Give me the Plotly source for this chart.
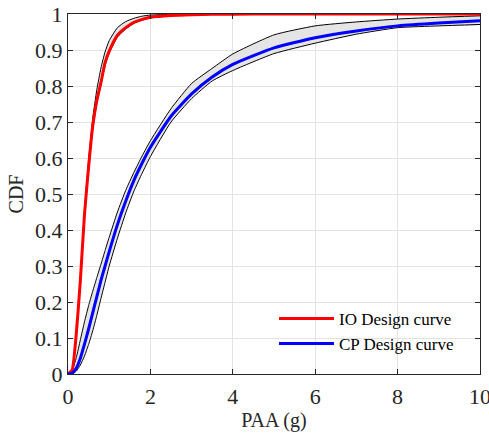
import plotly.graph_objects as go

# PAA grid (g)
paa = [0, 0.1, 0.2, 0.3, 0.4, 0.5, 0.6, 0.7, 0.8, 0.9, 1.0, 1.2, 1.4, 1.6, 1.8,
       2.0, 2.5, 3.0, 3.5, 4.0, 5.0, 6.0, 7.0, 8.0, 9.0, 10.0]

# IO design curve and its bounds (CDF)
io_design = [0, 0.011, 0.11, 0.26, 0.443, 0.575, 0.689, 0.76, 0.81, 0.865, 0.897,
             0.941, 0.962, 0.977, 0.985, 0.991, 0.996, 0.998, 0.999, 0.9995, 1.0,
             1.0, 1.0, 1.0, 1.0, 1.0]
io_upper = [0, 0.012, 0.115, 0.27, 0.455, 0.595, 0.71, 0.79, 0.85, 0.895, 0.926,
            0.962, 0.979, 0.988, 0.994, 0.997, 0.999, 1.0, 1.0, 1.0, 1.0,
            1.0, 1.0, 1.0, 1.0, 1.0]
io_lower = [0, 0.010, 0.105, 0.252, 0.435, 0.566, 0.68, 0.752, 0.803, 0.857, 0.891,
            0.936, 0.958, 0.974, 0.983, 0.989, 0.995, 0.998, 0.999, 0.9995, 1.0,
            1.0, 1.0, 1.0, 1.0, 1.0]

# CP design curve and its bounds (CDF)
cp_design = [0, 0.002, 0.016, 0.044, 0.083, 0.125, 0.17, 0.215, 0.26, 0.30, 0.34,
             0.415, 0.48, 0.538, 0.586, 0.63, 0.716, 0.778, 0.825, 0.86, 0.906,
             0.934, 0.953, 0.967, 0.975, 0.981]
cp_upper = [0, 0.01, 0.045, 0.095, 0.145, 0.19, 0.23, 0.268, 0.305, 0.343, 0.38,
            0.45, 0.51, 0.56, 0.606, 0.648, 0.737, 0.807, 0.849, 0.889, 0.942,
            0.967, 0.978, 0.986, 0.991, 0.995]
cp_lower = [0, 0.0005, 0.008, 0.025, 0.05, 0.082, 0.12, 0.163, 0.21, 0.255, 0.30,
            0.377, 0.447, 0.508, 0.558, 0.604, 0.70, 0.765, 0.814, 0.843, 0.89,
            0.919, 0.944, 0.962, 0.967, 0.971]

x_ticks = [0, 2, 4, 6, 8, 10]

FONT = "Liberation Serif"
AX = "#262626"
SMOOTH = 0.5

fig = go.Figure()

# gray bands
for up, lo in [(io_upper, io_lower), (cp_upper, cp_lower)]:
    fig.add_trace(go.Scatter(
        x=paa + paa[::-1], y=up + lo[::-1], fill="toself",
        fillcolor="#e5e5e5", line=dict(width=0, shape="spline", smoothing=SMOOTH),
        mode="lines", showlegend=False, hoverinfo="skip"))

# black bound lines
for b in [io_upper, io_lower, cp_upper, cp_lower]:
    fig.add_trace(go.Scatter(
        x=paa, y=b, mode="lines", showlegend=False, cliponaxis=False,
        line=dict(color="black", width=1, shape="spline", smoothing=SMOOTH)))

fig.add_trace(go.Scatter(
    x=paa, y=io_design, mode="lines", name="IO Design curve", cliponaxis=False,
    line=dict(color="#ff0000", width=3, shape="spline", smoothing=SMOOTH)))
fig.add_trace(go.Scatter(
    x=paa, y=cp_design, mode="lines", name="CP Design curve", cliponaxis=False,
    line=dict(color="#0000ff", width=3, shape="spline", smoothing=SMOOTH)))

fig.update_layout(
    width=489, height=436,
    margin=dict(l=68, r=9, t=14, b=62, autoexpand=False),
    paper_bgcolor="white", plot_bgcolor="white",
    font=dict(family=FONT, size=20, color=AX),
    showlegend=True,
    legend=dict(x=0.5, y=0.203, xanchor="left", yanchor="top",
                bgcolor="rgba(0,0,0,0)", borderwidth=0,
                font=dict(family=FONT, size=17, color="black"),
                itemwidth=55, tracegroupgap=0),
)
fig.update_xaxes(
    range=[0, 10], tickvals=x_ticks, showgrid=True, gridcolor="#e3e3e3",
    gridwidth=1, zeroline=False, showline=True, linecolor=AX, linewidth=1,
    mirror="ticks", ticks="inside", ticklen=5, tickcolor=AX, automargin=False,
    ticklabeloverflow="allow", ticklabelstandoff=3,
    tickfont=dict(family=FONT, size=22, color=AX),
    title=dict(text="PAA (g)", font=dict(family=FONT, size=20, color=AX), standoff=4))
fig.update_yaxes(
    range=[0, 1], dtick=0.1, tick0=0, showgrid=True, gridcolor="#e3e3e3",
    gridwidth=1, zeroline=False, showline=True, linecolor=AX, linewidth=1,
    mirror="ticks", ticks="inside", ticklen=5, tickcolor=AX, automargin=False,
    ticklabeloverflow="allow",
    tickfont=dict(family=FONT, size=22, color=AX),
    title=dict(text="CDF", font=dict(family=FONT, size=20, color=AX), standoff=6))

fig.write_html("out.html")
